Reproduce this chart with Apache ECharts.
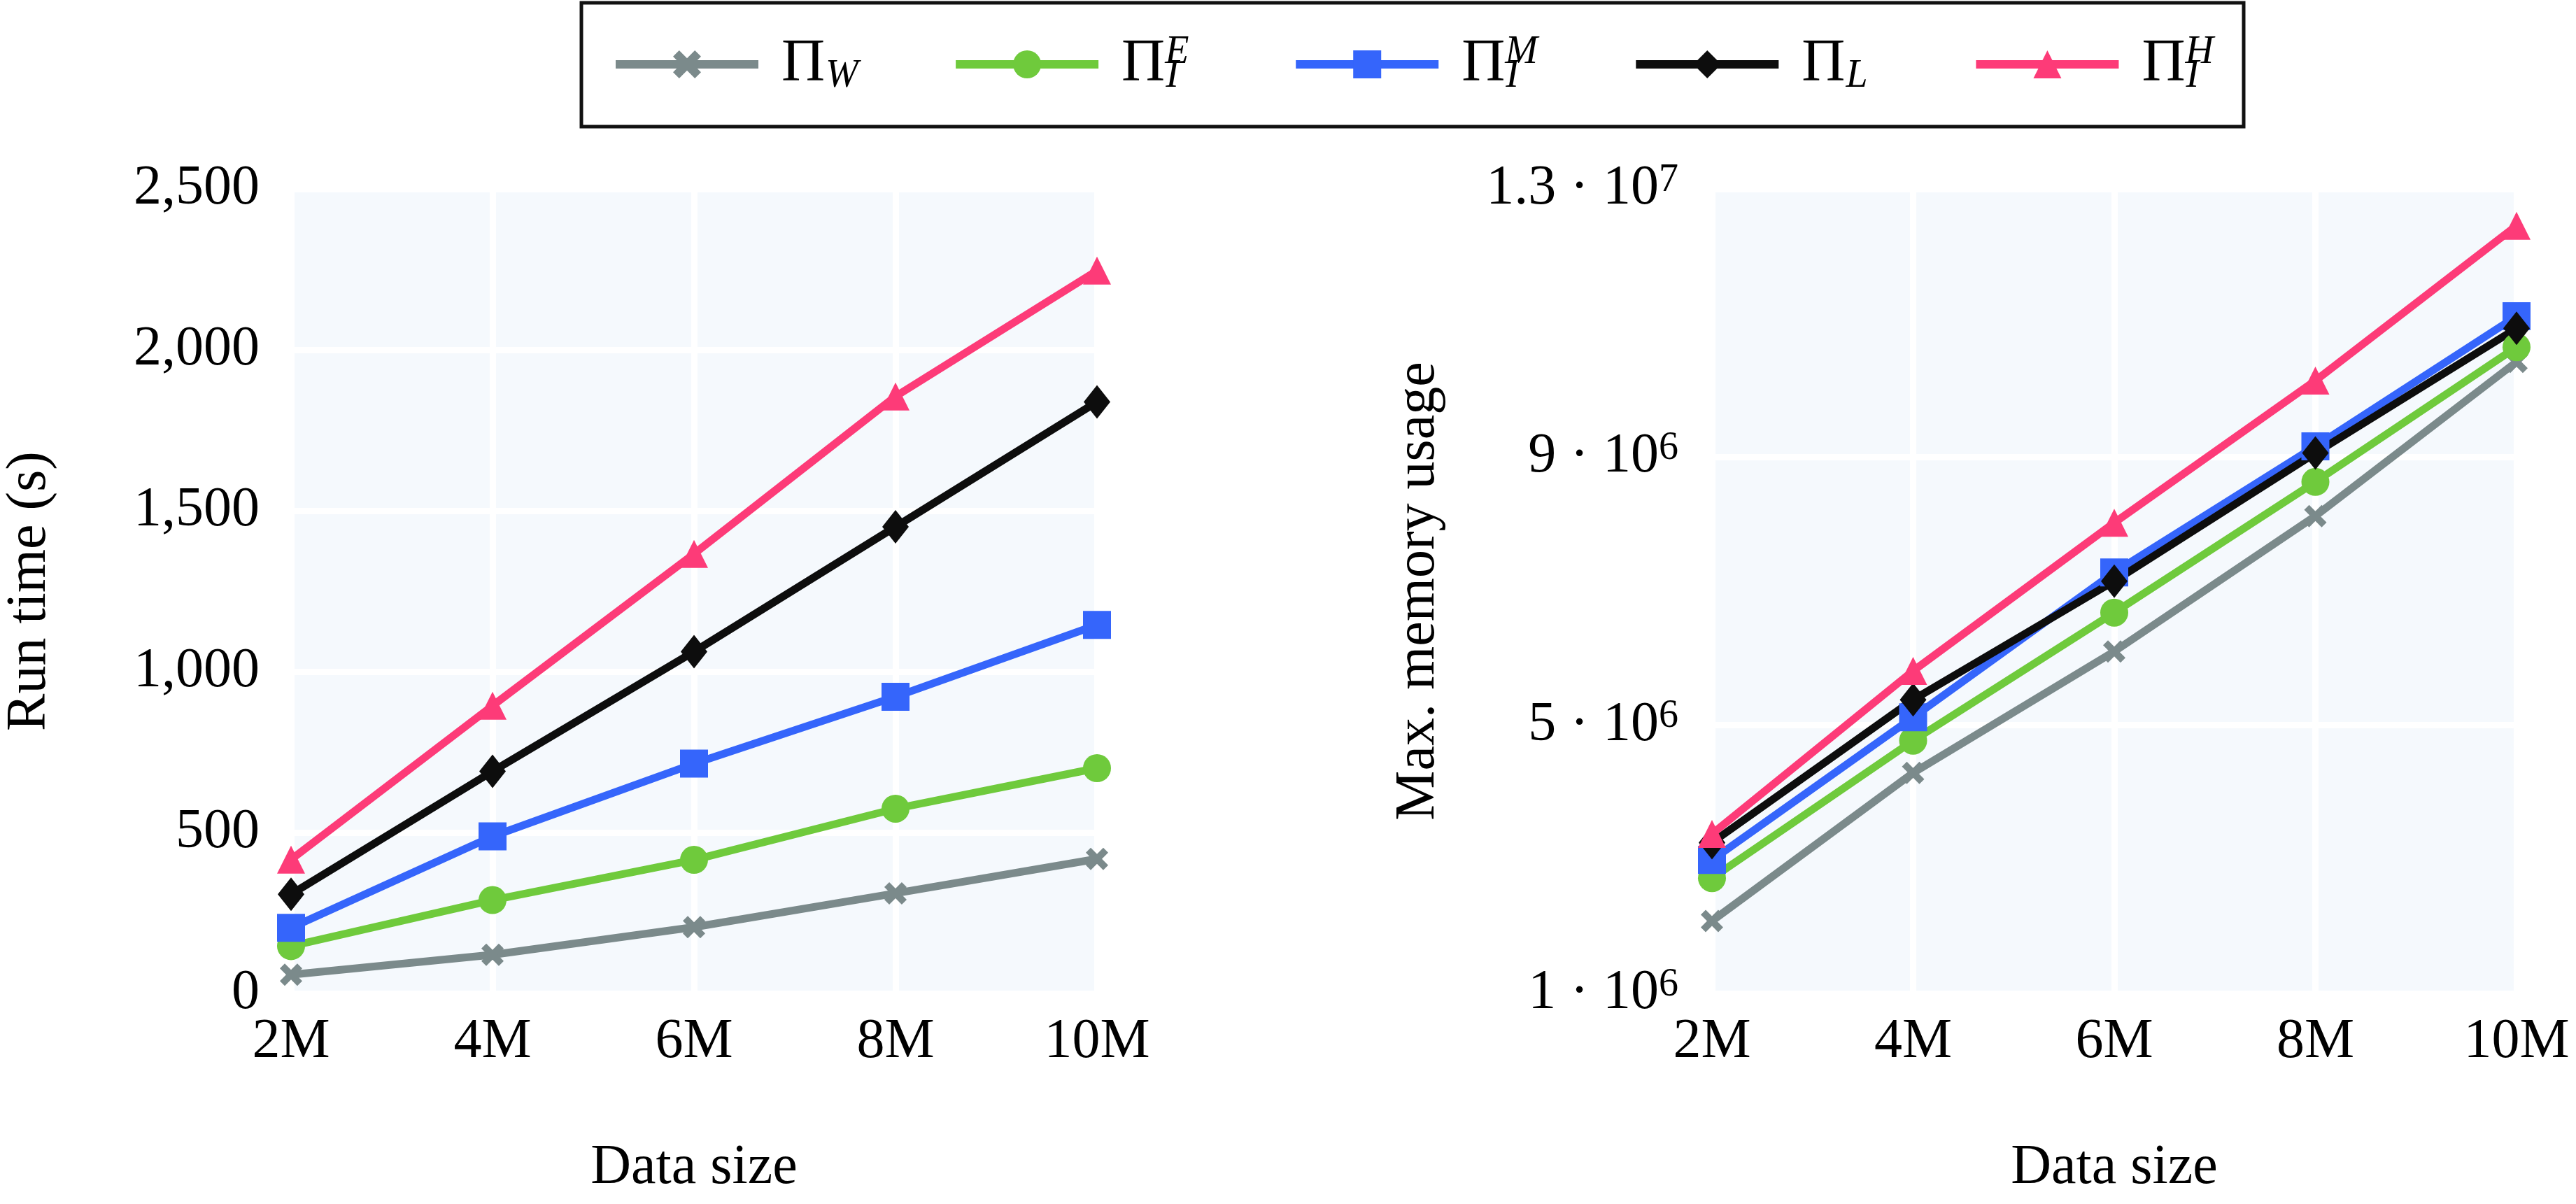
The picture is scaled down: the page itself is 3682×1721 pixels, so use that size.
<!DOCTYPE html>
<html>
<head>
<meta charset="utf-8">
<title>Run time and memory</title>
<script src="https://cdn.jsdelivr.net/npm/echarts@6/dist/echarts.min.js"></script>
<style>
  html, body { margin: 0; padding: 0; background: #fff; }
  #chart { width: 3682px; height: 1721px; }
</style>
</head>
<body>
<div id="chart"></div>
<script>
var FONT = 'Liberation Serif';

var categories = ['2M', '4M', '6M', '8M', '10M'];
var seriesNames = ['Π_W', 'Π_I^E', 'Π_I^M', 'Π_L', 'Π_I^H'];

// run time (s)
var runW = [58, 120, 206, 311, 418];
var runIE = [147, 290, 415, 574, 700];
var runIM = [204, 488, 714, 922, 1145];
var runL = [308, 690, 1062, 1450, 1838];
var runIH = [416, 894, 1366, 1855, 2246];

// max. memory usage
var memW = [2.08e6, 4.29e6, 6.10e6, 8.12e6, 10.42e6];
var memIE = [2.72e6, 4.77e6, 6.68e6, 8.63e6, 10.64e6];
var memIM = [2.99e6, 5.12e6, 7.28e6, 9.16e6, 11.10e6];
var memL = [3.25e6, 5.38e6, 7.15e6, 9.06e6, 10.92e6];
var memIH = [3.38e6, 5.81e6, 8.02e6, 10.14e6, 12.45e6];

var runTicks = [0, 2500, 500];
var memTicks = [1e6, 1.3e7, 4e6];

var colors = ['#7b8a8b', '#6fca3c', '#3565fb', '#0d0d0d', '#fd3b78'];
var xPath = 'path://M0,22L22,0L50,28L78,0L100,22L72,50L100,78L78,100L50,72L22,100L0,78L28,50Z';
var symbols = [xPath, 'circle', 'rect', 'diamond', 'triangle'];
var symbolSizes = [32, 40, 40, [38, 48], 40];

var legendText = {
    'Π_W': '{pi|Π}{sup| }{subw|W}',
    'Π_I^E': '{pi|Π}{sup|E}{subi|I}',
    'Π_I^M': '{pi|Π}{sup|M}{subi|I}',
    'Π_L': '{pi|Π}{sup| }{subw|L}',
    'Π_I^H': '{pi|Π}{sup|H}{subi|I}'
};

function commaFmt(v) {
    return String(v).replace(/\B(?=(\d{3})+(?!\d))/g, ',');
}
function sciFmt(v) {
    var e = Math.floor(Math.log10(v) + 1e-9);
    var m = Math.round(v / Math.pow(10, e) * 10) / 10;
    return '{m|' + m + ' · 10}{e|' + e + '}';
}

var myChart = echarts.init(document.getElementById('chart'));

function xAxisFor(gridIndex) {
    return {
        type: 'category',
        gridIndex: gridIndex,
        data: categories,
        boundaryGap: false,
        name: 'Data size',
        nameLocation: 'middle',
        nameGap: 210,
        nameTextStyle: { fontFamily: FONT, fontSize: 80, color: '#000' },
        axisLine: { show: false },
        axisTick: { show: false },
        axisLabel: { fontFamily: FONT, fontSize: 80, color: '#000', margin: 30, interval: 0 },
        splitLine: { show: true, interval: 0, lineStyle: { color: '#fff', width: 9 } }
    };
}

var allRun = [runW, runIE, runIM, runL, runIH];
var allMem = [memW, memIE, memIM, memL, memIH];
var series = [];
[allRun, allMem].forEach(function (group, g) {
    group.forEach(function (vals, i) {
        series.push({
            name: seriesNames[i],
            type: 'line',
            xAxisIndex: g,
            yAxisIndex: g,
            data: vals,
            symbol: symbols[i],
            symbolSize: symbolSizes[i],
            showSymbol: true,
            lineStyle: { width: 11, color: colors[i] },
            itemStyle: { color: colors[i] },
            emphasis: { disabled: true }
        });
    });
});

var option = {
    animation: false,
    backgroundColor: '#fff',
    textStyle: { fontFamily: FONT },
    color: colors,
    graphic: [{
        type: 'rect',
        shape: { x: 831, y: 4, width: 2376, height: 177 },
        style: { fill: 'none', stroke: '#111', lineWidth: 5 }
    }],
    legend: {
        data: seriesNames,
        left: 874,
        top: 47,
        padding: 0,
        itemWidth: 204,
        itemHeight: 50,
        itemGap: 132,
        selectedMode: false,
        lineStyle: { width: 12 },
        formatter: function (name) { return legendText[name]; },
        textStyle: {
            fontFamily: FONT,
            color: '#000',
            rich: {
                pi: { fontFamily: FONT, fontSize: 86, lineHeight: 90, padding: [0, 0, 0, 28], verticalAlign: 'middle' },
                sup: { fontFamily: FONT, fontStyle: 'italic', fontSize: 56, lineHeight: 40, width: 1, verticalAlign: 'top' },
                subw: { fontFamily: FONT, fontStyle: 'italic', fontSize: 56, lineHeight: 62, width: 48, verticalAlign: 'bottom' },
                subi: { fontFamily: FONT, fontStyle: 'italic', fontSize: 56, lineHeight: 36, width: 48, verticalAlign: 'bottom' }
            }
        }
    },
    grid: [
        { left: 416, top: 270, width: 1152, height: 1150, show: true, backgroundColor: '#f5f9fd', borderWidth: 0 },
        { left: 2447, top: 270, width: 1150, height: 1150, show: true, backgroundColor: '#f5f9fd', borderWidth: 0 }
    ],
    xAxis: [xAxisFor(0), xAxisFor(1)],
    yAxis: [{
        type: 'value',
        gridIndex: 0,
        min: runTicks[0],
        max: runTicks[1],
        interval: runTicks[2],
        name: 'Run time (s)',
        nameLocation: 'middle',
        nameGap: 333,
        nameTextStyle: { fontFamily: FONT, fontSize: 80, color: '#000' },
        axisLine: { show: false },
        axisTick: { show: false },
        axisLabel: { fontFamily: FONT, fontSize: 80, color: '#000', margin: 45, formatter: commaFmt },
        splitLine: { show: true, lineStyle: { color: '#fff', width: 9 } }
    }, {
        type: 'value',
        gridIndex: 1,
        min: memTicks[0],
        max: memTicks[1],
        interval: memTicks[2],
        name: 'Max. memory usage',
        nameLocation: 'middle',
        nameGap: 379,
        nameTextStyle: { fontFamily: FONT, fontSize: 80, color: '#000' },
        axisLine: { show: false },
        axisTick: { show: false },
        axisLabel: {
            fontFamily: FONT,
            color: '#000',
            margin: 48,
            formatter: sciFmt,
            rich: {
                m: { fontFamily: FONT, fontSize: 80, lineHeight: 80, color: '#000' },
                e: { fontFamily: FONT, fontSize: 56, lineHeight: 46, color: '#000', verticalAlign: 'top' }
            }
        },
        splitLine: { show: true, lineStyle: { color: '#fff', width: 9 } }
    }],
    series: series
};

if (option && typeof option === "object") {
    myChart.setOption(option, true);
}
</script>
</body>
</html>
